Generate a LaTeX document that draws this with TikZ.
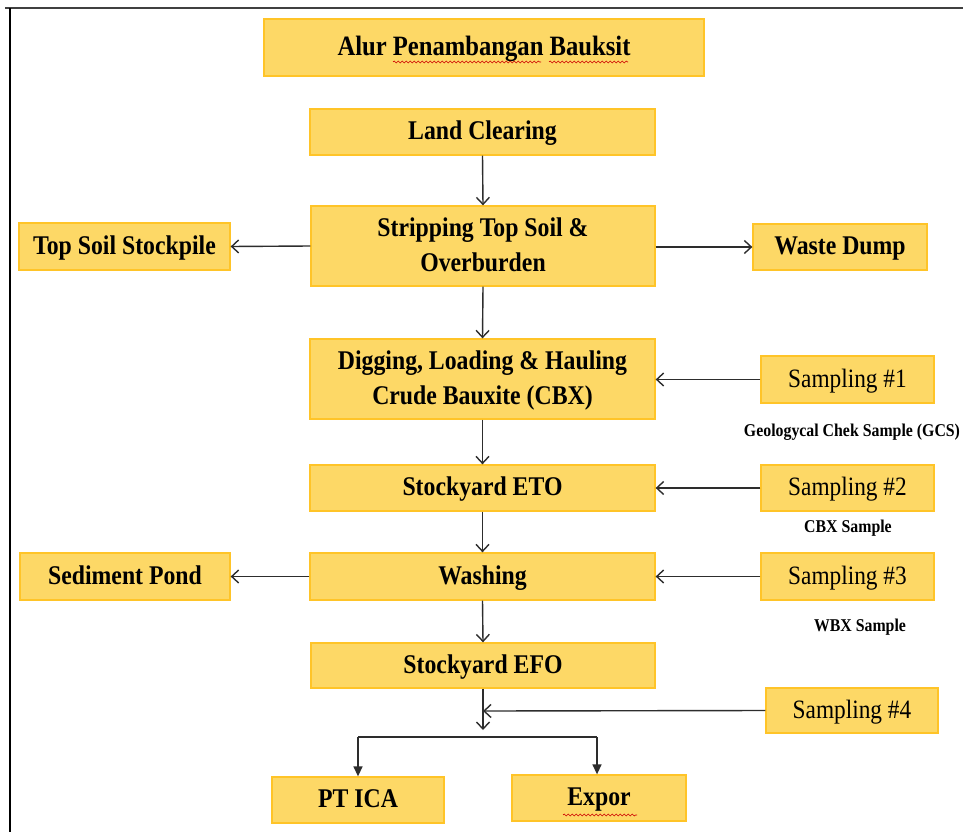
\documentclass[tikz,border=0pt]{standalone}
\usepackage{fontspec}
\setmainfont{Liberation Serif}[FakeStretch=0.88]
\usetikzlibrary{arrows.meta,decorations.pathmorphing}
\definecolor{boxfill}{RGB}{253,216,102}
\definecolor{boxline}{RGB}{255,196,40}
\definecolor{linegray}{RGB}{45,45,45}
\tikzset{
  box/.style={draw=boxline, fill=boxfill, line width=1.3pt, inner sep=0pt, align=center,
    text depth=3pt, font=\fontsize{27}{35}\selectfont\bfseries},
  sbox/.style={box, font=\fontsize{26.5}{34}\selectfont},
  note/.style={inner sep=0pt, font=\fontsize{18}{21}\selectfont\bfseries},
  conn/.style={draw=linegray, line width=1.4pt, -{Straight Barb[length=7pt,width=13pt,line width=1.4pt]}},
  solidconn/.style={draw=linegray, line width=1.4pt, -{Triangle[length=10pt,width=9pt]}},
  squig/.style={draw=red!80!black, line width=0.6pt, decorate,
    decoration={snake, amplitude=1pt, segment length=4pt}}
}
\begin{document}
\begin{tikzpicture}[x=1pt,y=-1pt]
\useasboundingbox (0,0) rectangle (963,832);
\fill[white] (0,0) rectangle (963,832);
% frame
\draw[line width=2pt, draw=black!75] (5,8.5) -- (963,8.5);
\draw[line width=1.5pt, draw=black] (10,8.5) -- (10,832);
% nodes
\node[box, minimum width=440pt, minimum height=57pt, font=\fontsize{28}{34}\selectfont\bfseries] (title) at (484,47.5) {Alur Penambangan Bauksit};
\node[box, minimum width=345pt, minimum height=46pt] (land) at (482.5,132) {Land Clearing};
\node[box, minimum width=344pt, minimum height=80pt] (strip) at (483,246) {Stripping Top Soil \&\\Overburden};
\node[box, minimum width=211pt, minimum height=47pt] (topsoil) at (124.5,246.5) {Top Soil Stockpile};
\node[box, minimum width=174pt, minimum height=46pt] (waste) at (840,247) {Waste Dump};
\node[box, minimum width=345pt, minimum height=80pt] (dig) at (482.5,379) {Digging, Loading \& Hauling\\Crude Bauxite (CBX)};
\node[sbox, minimum width=173pt, minimum height=47pt] (s1) at (847.5,379.5) {Sampling \#1};
\node[note] (gcs) at (852,432) {Geologycal Chek Sample (GCS)};
\node[box, minimum width=345pt, minimum height=46pt] (eto) at (482.5,488) {Stockyard ETO};
\node[sbox, minimum width=173pt, minimum height=46pt] (s2) at (847.5,488) {Sampling \#2};
\node[note] (cbx) at (848,528) {CBX Sample};
\node[box, minimum width=210pt, minimum height=47pt] (sed) at (125,576.5) {Sediment Pond};
\node[box, minimum width=345pt, minimum height=47pt] (wash) at (482.5,576.5) {Washing};
\node[sbox, minimum width=173pt, minimum height=47pt] (s3) at (847.5,576.5) {Sampling \#3};
\node[note] (wbx) at (860,627) {WBX Sample};
\node[box, minimum width=344pt, minimum height=45pt] (efo) at (483,665.5) {Stockyard EFO};
\node[sbox, minimum width=172pt, minimum height=45pt] (s4) at (852,710.5) {Sampling \#4};
\node[box, minimum width=172pt, minimum height=46pt] (ptica) at (358,800) {PT ICA};
\node[box, minimum width=174pt, minimum height=46pt] (expor) at (599,798) {Expor};
% spell-check marks
\draw[squig] (393,62) -- (541,62);
\draw[squig] (549,62) -- (628,62);
\draw[squig] (563,815) -- (637,815);
% coordinates
\coordinate (j1) at (483,711);
\coordinate (j2) at (483,730);
\coordinate (hl) at (358,737);
\coordinate (hr) at (597,737);
% connectors
\draw[conn] (land.south) -- (strip.north);
\draw[conn] (strip.west) -- (topsoil.east);
\draw[conn] (strip.east |- waste.west) -- (waste.west);
\draw[conn] (strip.south) -- (dig.north);
\draw[conn] (s1.west) -- (s1.west -| dig.east);
\draw[conn] (dig.south) -- (eto.north);
\draw[conn] (s2.west) -- (eto.east);
\draw[conn] (eto.south) -- (wash.north);
\draw[conn] (s3.west) -- (wash.east);
\draw[conn] (wash.west) -- (sed.east);
\draw[conn] (wash.south) -- (efo.north);
\draw[conn] (efo.south) -- (j2);
\draw[conn] (s4.west) -- (j1);
\draw[draw=linegray, line width=1.4pt] (hl) -- (hr);
\draw[solidconn] (hl) -- (ptica.north);
\draw[solidconn] (hr) -- (hr |- expor.north);
\end{tikzpicture}
\end{document}
